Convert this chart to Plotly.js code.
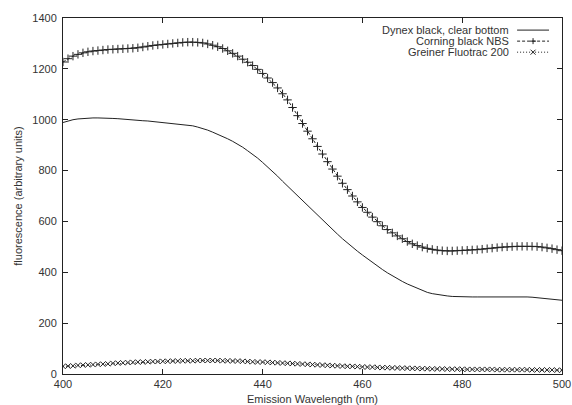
<!DOCTYPE html>
<html>
<head>
<meta charset="utf-8">
<script src="https://cdn.plot.ly/plotly-3.0.1.min.js"></script>
<style>html,body{margin:0;padding:0;background:#fff;}#chart{width:572px;height:405px;}</style>
</head>
<body>
<div id="chart"></div>
<script>
const wavelength = [400,401,402,403,404,405,406,407,408,409,410,411,412,413,414,415,416,417,418,419,420,421,422,423,424,425,426,427,428,429,430,431,432,433,434,435,436,437,438,439,440,441,442,443,444,445,446,447,448,449,450,451,452,453,454,455,456,457,458,459,460,461,462,463,464,465,466,467,468,469,470,471,472,473,474,475,476,477,478,479,480,481,482,483,484,485,486,487,488,489,490,491,492,493,494,495,496,497,498,499,500];

const dynex = [989,995,1000,1003,1005,1006,1007,1007,1007,1006,1005,1004,1002,1000,999,998,996,995,993,991,990,988,986,984,982,980,976,971,966,959,951,943,935,925,915,905,892,878,864,849,832,815,797,778,758,739,719,699,679,660,642,624,605,586,568,550,532,515,499,483,468,453,439,425,411,398,386,375,364,354,345,336,328,321,316,312,309,307,305,304,303,303,303,303,303,304,304,305,305,305,305,305,304,303,302,300,298,296,294,292,290];

const corning = [1227,1240,1250,1257,1263,1267,1270,1272,1274,1276,1277,1278,1279,1280,1281,1283,1286,1289,1292,1294,1296,1298,1300,1302,1304,1305,1305,1304,1302,1298,1293,1287,1280,1271,1261,1250,1238,1226,1213,1198,1182,1164,1146,1125,1102,1078,1048,1016,985,955,925,895,865,835,806,778,750,725,700,677,655,636,617,599,583,568,555,543,532,521,512,505,499,494,490,487,485,484,484,485,486,487,488,489,491,493,495,497,499,500,501,502,502,502,502,501,499,496,493,489,485];

const greiner = [30,31,32,34,35,36,37,38,39,40,42,43,44,45,46,47,47,48,49,49,50,50,51,51,52,52,52,53,53,53,53,53,52,52,51,51,50,49,48,47,47,46,45,44,43,42,41,40,39,38,37,36,35,34,33,32,31,30,30,29,28,27,27,26,25,25,24,24,23,23,22,22,21,21,20,20,20,19,19,19,19,18,18,18,18,18,18,17,17,17,17,17,17,17,16,16,16,16,16,15,15];

const seriesNames = ["Dynex black, clear bottom", "Corning black NBS", "Greiner Fluotrac 200"];
const yTicks = [0,200,400,600,800,1000,1200,1400];
const xTicks = [400,420,440,460,480,500];

const ink = "#222";
const font = {family: "Liberation Sans, Arial, sans-serif", size: 11, color: "#333"};

const traces = [
  {x: wavelength, y: dynex, name: seriesNames[0], mode: "lines",
   line: {color: ink, width: 1}},
  {x: wavelength, y: corning, name: seriesNames[1], mode: "lines+markers",
   line: {color: ink, width: 1, dash: "3px,2px"},
   marker: {symbol: "cross-thin-open", size: 6, line: {color: ink, width: 1}}},
  {x: wavelength, y: greiner, name: seriesNames[2], mode: "lines+markers",
   line: {color: ink, width: 1, dash: "1px,2px"},
   marker: {symbol: "x-thin-open", size: 5, line: {color: ink, width: 1}}}
];

// gnuplot-style key: right-aligned text, sample on the right
const keyY = [0.966, 0.935, 0.904];
const annotations = seriesNames.map((n, i) => ({
  xref: "paper", yref: "paper", x: 0.898, y: keyY[i], text: n,
  xanchor: "right", yanchor: "middle", showarrow: false, font: font
}));
const shapes = [];
const dashes = ["solid", "3px,2px", "1px,2px"];
seriesNames.forEach((n, i) => {
  shapes.push({type: "line", xref: "paper", yref: "paper", x0: 0.910, x1: 0.974, y0: keyY[i], y1: keyY[i],
    line: {color: ink, width: 1, dash: dashes[i]}});
});
function glyph(xc, yc, pts) {
  pts.forEach(p => shapes.push({type: "line", xref: "paper", yref: "paper",
    xsizemode: "pixel", ysizemode: "pixel", xanchor: xc, yanchor: yc,
    x0: p[0], y0: p[1], x1: p[2], y1: p[3], line: {color: ink, width: 1}}));
}
glyph(0.942, keyY[1], [[-3,0,3,0],[0,-3,0,3]]);
glyph(0.942, keyY[2], [[-2.5,-2.5,2.5,2.5],[-2.5,2.5,2.5,-2.5]]);

const axisCommon = {
  showline: true, linecolor: ink, linewidth: 1, mirror: "ticks",
  ticks: "inside", ticklen: 5, tickcolor: ink, tickwidth: 1,
  showgrid: false, zeroline: false, tickfont: font, fixedrange: true
};

const layout = {
  width: 572, height: 405,
  margin: {l: 63, r: 10, t: 18, b: 31},
  paper_bgcolor: "#fff", plot_bgcolor: "#fff",
  showlegend: false,
  font: font,
  xaxis: Object.assign({}, axisCommon, {
    range: [400, 500], tickvals: xTicks, ticktext: xTicks.map(String),
    title: {text: "Emission Wavelength (nm)", font: font, standoff: 7}
  }),
  yaxis: Object.assign({}, axisCommon, {
    range: [0, 1400], tickvals: yTicks, ticktext: yTicks.map(String),
    ticklabelstandoff: 3,
    title: {text: "fluorescence (arbitrary units)", font: font, standoff: 7}
  }),
  annotations: annotations,
  shapes: shapes
};

Plotly.newPlot("chart", traces, layout, {staticPlot: true, displayModeBar: false});
</script>
</body>
</html>
